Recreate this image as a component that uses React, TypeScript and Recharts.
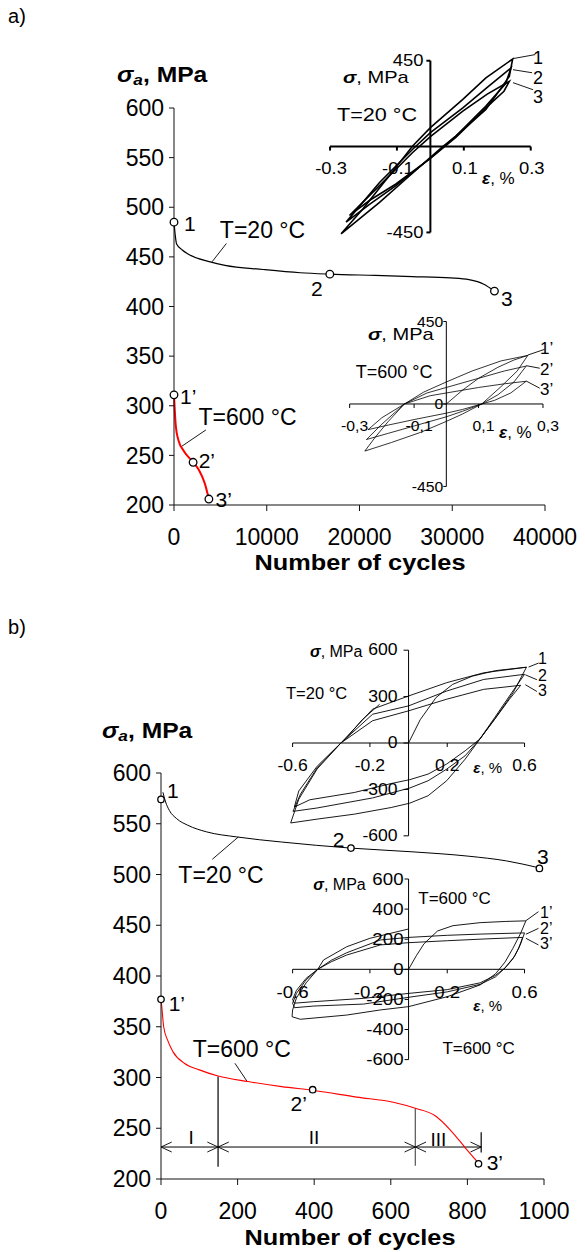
import React from "react";
import { ComposedChart, Line, Scatter, XAxis, YAxis, ReferenceLine, ReferenceDot } from "recharts";

type Pt = [number, number];

// a) stress amplitude (MPa) vs number of cycles
const a20Curve: Pt[] = [[0, 485], [120, 473], [280, 463], [890, 457], [1500, 453], [3900, 445], [5500, 441.5], [9600, 437.3], [13600, 434], [16800, 432.6], [21700, 431.3], [25700, 430.2], [29800, 428.8], [31800, 427], [33400, 422.5], [34550, 415.5]];
const a20Marks: Pt[] = [[0, 485], [16800, 432.6], [34550, 415.5]];
const a600Curve: Pt[] = [[0, 311], [80, 296], [200, 279], [485, 265], [1090, 254], [2060, 243], [2700, 235], [3310, 222], [3760, 206]];
const a600Marks: Pt[] = [[0, 311], [2060, 243], [3760, 206]];
const aCycleTicks = [0, 10000, 20000, 30000, 40000];
const stressTicks = [200, 250, 300, 350, 400, 450, 500, 550, 600];

// b) stress amplitude (MPa) vs number of cycles
const b20Curve: Pt[] = [[5, 581], [12, 571.5], [22, 563], [41, 555], [70, 548.5], [119, 542], [198, 537], [315, 532], [496, 526], [658, 522.3], [804, 518], [902, 513.4], [988, 506.5]];
const b20Marks: Pt[] = [[0, 574], [496, 526], [988, 506]];
const b600Curve: Pt[] = [[0, 377], [2, 370], [7, 350], [17, 337], [31, 325.5], [61, 314], [100, 307.5], [149, 301.5], [227, 296], [315, 291], [399, 287.2], [511, 280.7], [609, 275.4], [664, 269.8], [716, 262.3], [755, 248.5], [795, 230.5], [829, 215.7]];
const b600Marks: Pt[] = [[0, 377], [396, 288], [829, 215]];
const bCycleTicks = [0, 200, 400, 600, 800, 1000];
const stageBounds = [0, 149, 664, 836];
const stageNames = ["I", "II", "III"];
const stageLines: Pt[][] = [[[149, 212], [149, 301]], [[664, 213], [664, 270]], [[836, 226], [836, 246]]];
const stageLevel = 231.5;

// inset a) T=20 °C loops: [strain %, stress MPa]
const aLoop20: Pt[][] = [
  [[-0.267, -457], [-0.202, -327], [-0.123, -153], [-0.053, 3], [0, 99], [0.097, 247], [0.166, 360], [0.246, 459], [0.236, 368], [0.166, 195], [0.077, 56], [0.037, 0], [0, -57], [-0.073, -170], [-0.152, -292], [-0.267, -457]],
  [[-0.252, -396], [-0.152, -188], [-0.053, -14], [0, 73], [0.097, 203], [0.17, 310], [0.241, 412], [0.225, 330], [0.166, 212], [0.077, 56], [0.037, -5], [0, -60], [-0.103, -205], [-0.18, -300], [-0.252, -396]],
  [[-0.242, -361], [-0.152, -205], [-0.053, -31], [0, 52], [0.097, 186], [0.17, 275], [0.236, 342], [0.22, 290], [0.166, 203], [0.077, 50], [0.037, -8], [0, -62], [-0.103, -196], [-0.18, -280], [-0.242, -361]],
];
// inset a) T=600 °C loops
const aLoop600: Pt[][] = [
  [[0, 0], [0.05, 75], [0.1, 140], [0.16, 200], [0.21, 240], [0.253, 265]],
  [[-0.253, -257], [-0.22, -180], [-0.18, -95], [-0.13, 0], [-0.07, 65], [0, 120], [0.08, 180], [0.17, 235], [0.253, 265], [0.22, 180], [0.17, 95], [0.11, 0], [0.05, -55], [0, -95], [-0.08, -155], [-0.17, -210], [-0.253, -257]],
  [[-0.248, -194], [-0.2, -110], [-0.13, 0], [-0.06, 60], [0, 90], [0.1, 140], [0.18, 180], [0.248, 207], [0.21, 120], [0.16, 50], [0.11, 0], [0.05, -40], [0, -70], [-0.1, -120], [-0.18, -160], [-0.248, -194]],
  [[-0.243, -140], [-0.2, -75], [-0.13, 0], [-0.05, 45], [0, 60], [0.1, 90], [0.18, 110], [0.248, 124], [0.2, 60], [0.15, 20], [0.11, 0], [0.05, -30], [0, -50], [-0.1, -85], [-0.18, -115], [-0.243, -140]],
];
// inset b) T=20 °C loops
const bLoop20: Pt[][] = [
  [[0, 0], [0.06, 150], [0.142, 294], [0.228, 379], [0.33, 432], [0.45, 468], [0.61, 490]],
  [[0.61, 490], [0.542, 328], [0.446, 156], [0.369, 26], [0.293, -104], [0.197, -244], [0.101, -341], [0.006, -389], [-0.09, -417], [-0.281, -460], [-0.473, -492], [-0.61, -517], [-0.568, -363], [-0.473, -168], [-0.35, 0], [-0.186, 219], [0, 304], [0.197, 390], [0.389, 454], [0.61, 490]],
  [[0.6, 444], [0.522, 304], [0.446, 165], [0.369, 26], [0.293, -82], [0.197, -169], [0.101, -244], [0.006, -291], [-0.186, -355], [-0.473, -420], [-0.598, -442], [-0.559, -330], [-0.473, -160], [-0.35, 0], [-0.186, 186], [0, 240], [0.197, 336], [0.389, 411], [0.6, 444]],
  [[0.58, 373], [0.522, 283], [0.446, 154], [0.369, 26], [0.293, -50], [0.197, -136], [0.101, -201], [0.006, -237], [-0.09, -262], [-0.281, -320], [-0.511, -367], [-0.591, -414], [-0.568, -310], [-0.473, -150], [-0.35, 0], [-0.186, 144], [0, 208], [0.197, 283], [0.389, 347], [0.58, 373]],
  [[-0.33, 20], [-0.24, 150], [-0.15, 250]],
];
// inset b) T=600 °C loops
const bLoop600: Pt[][] = [
  [[0, 0], [0.04, 90], [0.08, 170], [0.15, 255], [0.23, 290], [0.37, 310], [0.5, 318], [0.607, 322]],
  [[0.607, 322], [0.58, 240], [0.54, 140], [0.5, 50], [0.45, -30], [0.37, -104], [0.2, -182], [0, -248], [-0.146, -270], [-0.32, -304], [-0.56, -332], [-0.603, -315], [-0.6, -270], [-0.58, -190], [-0.53, -90], [-0.47, 0], [-0.44, 62], [-0.32, 150], [-0.2, 206], [0, 268]],
  [[0.6, 242], [0.58, 170], [0.55, 90], [0.5, 10], [0.45, -50], [0.37, -100], [0.2, -150], [0, -186], [-0.233, -231], [-0.49, -244], [-0.59, -255], [-0.6, -225], [-0.58, -160], [-0.53, -70], [-0.47, 0], [-0.4, 60], [-0.32, 110], [-0.146, 195], [0, 212], [0.2, 226], [0.37, 234], [0.6, 242]],
  [[0.59, 212], [0.57, 140], [0.54, 70], [0.5, 10], [0.45, -40], [0.37, -90], [0.2, -135], [0, -160], [-0.233, -193], [-0.49, -215], [-0.59, -225], [-0.6, -200], [-0.58, -140], [-0.53, -60], [-0.47, 0], [-0.4, 50], [-0.32, 95], [-0.146, 162], [0, 177], [0.2, 190], [0.4, 202], [0.59, 212]],
];

// leader lines from loop tips to the 1,2,3 labels
const aLead20: Pt[][] = [[[0.247, 461], [0.313, 482]], [[0.247, 403], [0.304, 387]], [[0.247, 335], [0.307, 298]]];
const aLead600: Pt[][] = [[[0.253, 267], [0.305, 298]], [[0.248, 209], [0.29, 195]], [[0.248, 125], [0.29, 86]]];
const bLead20: Pt[][] = [[[0.621, 491], [0.673, 517]], [[0.604, 441], [0.664, 409]], [[0.604, 377], [0.664, 333]]];
const bLead600: Pt[][] = [[[0.607, 323], [0.672, 383]], [[0.607, 233], [0.672, 272]], [[0.607, 206], [0.672, 162]]];

const xy = (a: Pt[]) => a.map(([x, y]) => ({ x, y }));
const seg = (a: Pt[]) => a.map(([x, y]) => ({ x, y }));

const FONT = '"Liberation Sans", Arial, sans-serif';

function Txt({ x, y, size, bold, anchor = "middle", sx = 1, children }: any) {
  const tx = anchor === "middle" ? "-50%" : anchor === "end" ? "-100%" : "0";
  const origin = anchor === "middle" ? "center" : anchor === "end" ? "right" : "left";
  return (
    <div
      style={{
        position: "absolute", left: x, top: y, fontSize: size, fontWeight: bold ? 700 : 400,
        lineHeight: 1, whiteSpace: "nowrap", transform: `translate(${tx}, -50%) scaleX(${sx})`,
        transformOrigin: `${origin} center`,
      }}
    >
      {children}
    </div>
  );
}

const Sig = () => <span style={{ fontStyle: "italic", fontWeight: 700 }}>σ</span>;
const Eps = () => <span style={{ fontStyle: "italic", fontWeight: 700 }}>ε</span>;

type Geo = { ox: number; oy: number; kx: number; ky: number; xDom: [number, number]; yDom: [number, number] };
type InsetCfg = {
  geo: Geo; loops: Pt[][]; leaders: Pt[][]; stroke: number; axisStroke: number;
  xSpan: number; ySpan: number; xTicks: number[]; xLabels: string[]; yTicks: number[]; yLabels: string[];
  font: number; sx: number; xLblDx: number; xLblDy: number; yLblDx: number; tickDown: number; tickLeft: number;
};

const PAD = 30;

function Inset({ cfg }: { cfg: InsetCfg }) {
  const g = cfg.geo;
  const plotL = g.ox + g.xDom[0] * g.kx;
  const plotT = g.oy - g.yDom[1] * g.ky;
  const w = (g.xDom[1] - g.xDom[0]) * g.kx;
  const h = (g.yDom[1] - g.yDom[0]) * g.ky;
  const dy = cfg.tickDown / g.ky;
  const dx = cfg.tickLeft / g.kx;
  const label = (s: string, ox: number, oy: number, anchor: string) => (p: any) => (
    <text
      transform={`translate(${p.cx + ox},${p.cy + oy}) scale(${cfg.sx},1)`}
      textAnchor={anchor} dominantBaseline="central" fontSize={cfg.font} fill="#000"
    >
      {s}
    </text>
  );
  return (
    <div style={{ position: "absolute", left: plotL - PAD, top: plotT - PAD }}>
      <ComposedChart width={w + 2 * PAD} height={h + 2 * PAD} margin={{ top: PAD, right: PAD, bottom: PAD, left: PAD }}>
        <XAxis type="number" dataKey="x" domain={g.xDom} allowDataOverflow hide />
        <YAxis type="number" dataKey="y" domain={g.yDom} allowDataOverflow hide />
        <ReferenceLine segment={[{ x: -cfg.xSpan, y: 0 }, { x: cfg.xSpan, y: 0 }]} stroke="#000" strokeWidth={cfg.axisStroke} ifOverflow="visible" />
        <ReferenceLine segment={[{ x: 0, y: -cfg.ySpan }, { x: 0, y: cfg.ySpan }]} stroke="#000" strokeWidth={cfg.axisStroke} ifOverflow="visible" />
        {cfg.xTicks.map((t) => (
          <ReferenceLine key={"xt" + t} segment={[{ x: t, y: 0 }, { x: t, y: -dy }]} stroke="#000" strokeWidth={cfg.axisStroke} ifOverflow="visible" />
        ))}
        {cfg.yTicks.map((t) => (
          <ReferenceLine key={"yt" + t} segment={[{ x: 0, y: t }, { x: -dx, y: t }]} stroke="#000" strokeWidth={cfg.axisStroke} ifOverflow="visible" />
        ))}
        {cfg.leaders.map((l, i) => (
          <ReferenceLine key={"ld" + i} segment={seg(l)} stroke="#000" strokeWidth={0.9} ifOverflow="visible" />
        ))}
        {cfg.loops.map((l, i) => (
          <Line key={"lp" + i} data={xy(l)} dataKey="y" type="linear" dot={false} activeDot={false} stroke="#000" strokeWidth={cfg.stroke} isAnimationActive={false} />
        ))}
        {cfg.xTicks.map((t, i) => (
          <ReferenceDot key={"xl" + t} x={t} y={0} r={0} ifOverflow="visible" shape={label(cfg.xLabels[i], cfg.xLblDx, cfg.xLblDy, "middle")} />
        ))}
        {cfg.yTicks.map((t, i) => (
          <ReferenceDot key={"yl" + t} x={0} y={t} r={0} ifOverflow="visible" shape={label(cfg.yLabels[i], cfg.yLblDx, 0, "end")} />
        ))}
      </ComposedChart>
    </div>
  );
}

const insetA20: InsetCfg = {
  geo: { ox: 430.4, oy: 146.9, kx: 334.5, ky: 0.1908, xDom: [-0.33, 0.33], yDom: [-480, 480] },
  loops: aLoop20, leaders: aLead20, stroke: 1.6, axisStroke: 2, xSpan: 0.3, ySpan: 450,
  xTicks: [-0.3, -0.1, 0.1, 0.3], xLabels: ["-0.3", "-0.1", "0.1", "0.3"], yTicks: [450, -450], yLabels: ["450", "-450"],
  font: 16, sx: 1.15, xLblDx: 1, xLblDy: 22, yLblDx: -7, tickDown: 4, tickLeft: 4,
};
const insetA600: InsetCfg = {
  geo: { ox: 446.7, oy: 404, kx: 322.2, ky: 0.1833, xDom: [-0.33, 0.33], yDom: [-480, 480] },
  loops: aLoop600, leaders: aLead600, stroke: 0.8, axisStroke: 1, xSpan: 0.3, ySpan: 450,
  xTicks: [-0.3, -0.1, 0.1, 0.3], xLabels: ["-0,3", "-0,1", "0,1", "0,3"], yTicks: [450, 0, -450], yLabels: ["450", "0", "-450"],
  font: 15, sx: 1.05, xLblDx: 5, xLblDy: 22, yLblDx: -3, tickDown: 4, tickLeft: 3,
};
const insetB20: InsetCfg = {
  geo: { ox: 408.3, oy: 743.3, kx: 193.3, ky: 0.1547, xDom: [-0.66, 0.66], yDom: [-640, 640] },
  loops: bLoop20, leaders: bLead20, stroke: 0.9, axisStroke: 1, xSpan: 0.6, ySpan: 600,
  xTicks: [-0.6, -0.2, 0.2, 0.6], xLabels: ["-0.6", "-0.2", "0.2", "0.6"], yTicks: [600, 300, 0, -300, -600], yLabels: ["600", "300", "0", "-300", "-600"],
  font: 16, sx: 1.1, xLblDx: 0, xLblDy: 23, yLblDx: -11, tickDown: 4, tickLeft: 5,
};
const insetB600: InsetCfg = {
  geo: { ox: 408.3, oy: 969.3, kx: 193.3, ky: 0.1505, xDom: [-0.66, 0.66], yDom: [-640, 640] },
  loops: bLoop600, leaders: bLead600, stroke: 0.9, axisStroke: 1, xSpan: 0.6, ySpan: 600,
  xTicks: [-0.6, -0.2, 0.2, 0.6], xLabels: ["-0.6", "-0.2", "0.2", "0.6"], yTicks: [600, 400, 200, 0, -200, -400, -600], yLabels: ["600", "400", "200", "0", "-200", "-400", "-600"],
  font: 17, sx: 1.1, xLblDx: 0, xLblDy: 23, yLblDx: -5, tickDown: 4, tickLeft: 4,
};

type MainCfg = {
  top: number; height: number; margin: { top: number; right: number; bottom: number; left: number };
  yWidth: number; xHeight: number; xDom: [number, number]; xTicks: number[];
  series: { data: Pt[]; color: string; width: number }[]; marks: Pt[][]; r: number; leaders: Pt[][];
  extra?: React.ReactNode;
};

function Main({ cfg }: { cfg: MainCfg }) {
  return (
    <div style={{ position: "absolute", left: 0, top: cfg.top }}>
      <ComposedChart width={585} height={cfg.height} margin={cfg.margin}>
        <XAxis
          type="number" dataKey="x" domain={cfg.xDom} ticks={cfg.xTicks} interval={0} height={cfg.xHeight}
          axisLine={{ stroke: "#111" }} tickLine={{ stroke: "#111" }} tickSize={6} tickMargin={18}
          tick={{ fontSize: 23, fill: "#000" }}
        />
        <YAxis
          type="number" dataKey="y" domain={[200, 600]} ticks={stressTicks} interval={0} width={cfg.yWidth}
          axisLine={{ stroke: "#111" }} tickLine={{ stroke: "#111" }} tickSize={5} tickMargin={5}
          tick={{ fontSize: 23, fill: "#000" }}
        />
        {cfg.leaders.map((l, i) => (
          <ReferenceLine key={"ml" + i} segment={seg(l)} stroke="#000" strokeWidth={0.9} ifOverflow="visible" />
        ))}
        {cfg.extra}
        {cfg.series.map((s, i) => (
          <Line key={"s" + i} data={xy(s.data)} dataKey="y" type="monotone" dot={false} activeDot={false} stroke={s.color} strokeWidth={s.width} isAnimationActive={false} />
        ))}
        {cfg.marks.map((m, i) => (
          <Scatter
            key={"m" + i} data={xy(m)} isAnimationActive={false}
            shape={(p: any) => <circle cx={p.cx} cy={p.cy} r={cfg.r} fill="#fff" stroke="#000" strokeWidth={1.3} />}
          />
        ))}
      </ComposedChart>
    </div>
  );
}

// open arrowheads for the I / II / III stage dimension line
const CHEV_N = 28;
const CHEV_S = 4.9;
const stageArrows: Pt[][] = [];
stageNames.forEach((_, i) => {
  const a = stageBounds[i];
  const b = stageBounds[i + 1];
  stageArrows.push([[a + CHEV_N, stageLevel + CHEV_S], [a, stageLevel], [a + CHEV_N, stageLevel - CHEV_S]]);
  stageArrows.push([[b - CHEV_N, stageLevel + CHEV_S], [b, stageLevel], [b - CHEV_N, stageLevel - CHEV_S]]);
});

const stageExtra = (
  <>
    <ReferenceLine segment={[{ x: stageBounds[0], y: stageLevel }, { x: stageBounds[3], y: stageLevel }]} stroke="#000" strokeWidth={1} ifOverflow="visible" />
    {stageLines.map((l, i) => (
      <ReferenceLine key={"sl" + i} segment={seg(l)} stroke={i === 1 ? "#555" : "#000"} strokeWidth={1.2} ifOverflow="visible" />
    ))}
    {stageArrows.map((a, i) => [
      <ReferenceLine key={"sa" + i} segment={seg([a[0], a[1]])} stroke="#000" strokeWidth={0.9} ifOverflow="visible" />,
      <ReferenceLine key={"sb" + i} segment={seg([a[1], a[2]])} stroke="#000" strokeWidth={0.9} ifOverflow="visible" />,
    ])}
  </>
);

const mainA: MainCfg = {
  top: 0, height: 600, margin: { top: 108, right: 40, bottom: 35, left: 0 }, yWidth: 174, xHeight: 60,
  xDom: [0, 40000], xTicks: aCycleTicks,
  series: [{ data: a20Curve, color: "#000", width: 1.2 }, { data: a600Curve, color: "#ff0000", width: 2 }],
  marks: [a20Marks, a600Marks], r: 3.8,
  leaders: [[[4100, 445], [5650, 463.5]], [[808, 259], [3440, 275.6]]],
};
const mainB: MainCfg = {
  top: 620, height: 632, margin: { top: 153, right: 41, bottom: 23, left: 0 }, yWidth: 161, xHeight: 50,
  xDom: [0, 1000], xTicks: bCycleTicks,
  series: [{ data: b20Curve, color: "#000", width: 1 }, { data: b600Curve, color: "#ff0000", width: 1.1 }],
  marks: [b20Marks, b600Marks], r: 3.2,
  leaders: [[[202, 537], [134, 515]], [[225, 296], [193, 314]]],
  extra: stageExtra,
};

export default function App() {
  return (
    <div style={{ position: "absolute", left: 0, top: 0, width: 585, height: 1252, background: "#fff", fontFamily: FONT, color: "#000", overflow: "hidden" }}>
      <Main cfg={mainA} />
      <Main cfg={mainB} />
      <Inset cfg={insetA20} />
      <Inset cfg={insetA600} />
      <Inset cfg={insetB20} />
      <Inset cfg={insetB600} />

      <Txt x={17} y={16} size={20}>a)</Txt>
      <Txt x={17} y={627} size={20}>b)</Txt>

      {/* a) main */}
      <Txt x={117} y={76} size={22} bold anchor="start" sx={1.12}>
        <span style={{ fontStyle: "italic" }}>σ<sub style={{ fontSize: "0.7em", verticalAlign: "-0.2em" }}>a</sub></span>, MPa
      </Txt>
      <Txt x={360} y={563} size={22} bold sx={1.15}>Number of cycles</Txt>
      <Txt x={262.5} y={230} size={23}>T=20 °C</Txt>
      <Txt x={247.5} y={417} size={23}>T=600 °C</Txt>
      <Txt x={184} y={222.5} size={21} anchor="start">1</Txt>
      <Txt x={316.8} y={287.5} size={21}>2</Txt>
      <Txt x={501} y={297.5} size={21} anchor="start">3</Txt>
      <Txt x={180} y={395.7} size={21} anchor="start">1’</Txt>
      <Txt x={198.7} y={460} size={21} anchor="start">2’</Txt>
      <Txt x={215.6} y={499} size={21} anchor="start">3’</Txt>

      {/* a) inset 20 °C */}
      <Txt x={343} y={77} size={17} anchor="start" sx={1.18}><Sig />, MPa</Txt>
      <Txt x={337} y={115} size={18} anchor="start" sx={1.2}>T=20 °C</Txt>
      <Txt x={482} y={178} size={17} anchor="start"><Eps />, %</Txt>
      <Txt x={533} y={58} size={18} anchor="start">1</Txt>
      <Txt x={533} y={78} size={18} anchor="start">2</Txt>
      <Txt x={533} y={97} size={18} anchor="start">3</Txt>

      {/* a) inset 600 °C */}
      <Txt x={368} y={334.3} size={17} anchor="start" sx={1.18}><Sig />, MPa</Txt>
      <Txt x={355.7} y={371.7} size={18} anchor="start">T=600 °C</Txt>
      <Txt x={499} y={431.7} size={17} anchor="start"><Eps />, %</Txt>
      <Txt x={540} y={347.5} size={17} anchor="start">1’</Txt>
      <Txt x={540} y={369} size={17} anchor="start">2’</Txt>
      <Txt x={540} y={389} size={17} anchor="start">3’</Txt>

      {/* b) main */}
      <Txt x={102.4} y={731.7} size={22} bold anchor="start" sx={1.12}>
        <span style={{ fontStyle: "italic" }}>σ<sub style={{ fontSize: "0.7em", verticalAlign: "-0.2em" }}>a</sub></span>, MPa
      </Txt>
      <Txt x={350} y={1238} size={22} bold sx={1.15}>Number of cycles</Txt>
      <Txt x={221} y={875} size={23}>T=20 °C</Txt>
      <Txt x={241.8} y={1049.3} size={23}>T=600 °C</Txt>
      <Txt x={167} y={790} size={21} anchor="start">1</Txt>
      <Txt x={338.5} y={838.8} size={21}>2</Txt>
      <Txt x={537} y={855.8} size={21} anchor="start">3</Txt>
      <Txt x={168.7} y={1002.5} size={21} anchor="start">1’</Txt>
      <Txt x={290.6} y={1102.5} size={21} anchor="start">2’</Txt>
      <Txt x={486.7} y={1161.7} size={21} anchor="start">3’</Txt>
      <Txt x={191.2} y={1136.7} size={19}>I</Txt>
      <Txt x={314} y={1136.7} size={19}>II</Txt>
      <Txt x={438.3} y={1139} size={19}>III</Txt>

      {/* b) inset 20 °C */}
      <Txt x={310} y={652.3} size={16} anchor="start"><Sig />, MPa</Txt>
      <Txt x={286} y={692.7} size={16.5} anchor="start">T=20 °C</Txt>
      <Txt x={473.3} y={766.7} size={15} anchor="start"><Eps />, %</Txt>
      <Txt x={538} y={659} size={16} anchor="start">1</Txt>
      <Txt x={538} y={675.8} size={16} anchor="start">2</Txt>
      <Txt x={538} y={690.8} size={16} anchor="start">3</Txt>

      {/* b) inset 600 °C */}
      <Txt x={313.3} y={885} size={16} anchor="start"><Sig />, MPa</Txt>
      <Txt x={418.3} y={898.3} size={17} anchor="start">T=600 °C</Txt>
      <Txt x={442.4} y={1048} size={17} anchor="start">T=600 °C</Txt>
      <Txt x={473.3} y={1005} size={15} anchor="start"><Eps />, %</Txt>
      <Txt x={540} y={912.5} size={16} anchor="start">1’</Txt>
      <Txt x={540} y={929} size={16} anchor="start">2’</Txt>
      <Txt x={540} y={944} size={16} anchor="start">3’</Txt>
    </div>
  );
}
